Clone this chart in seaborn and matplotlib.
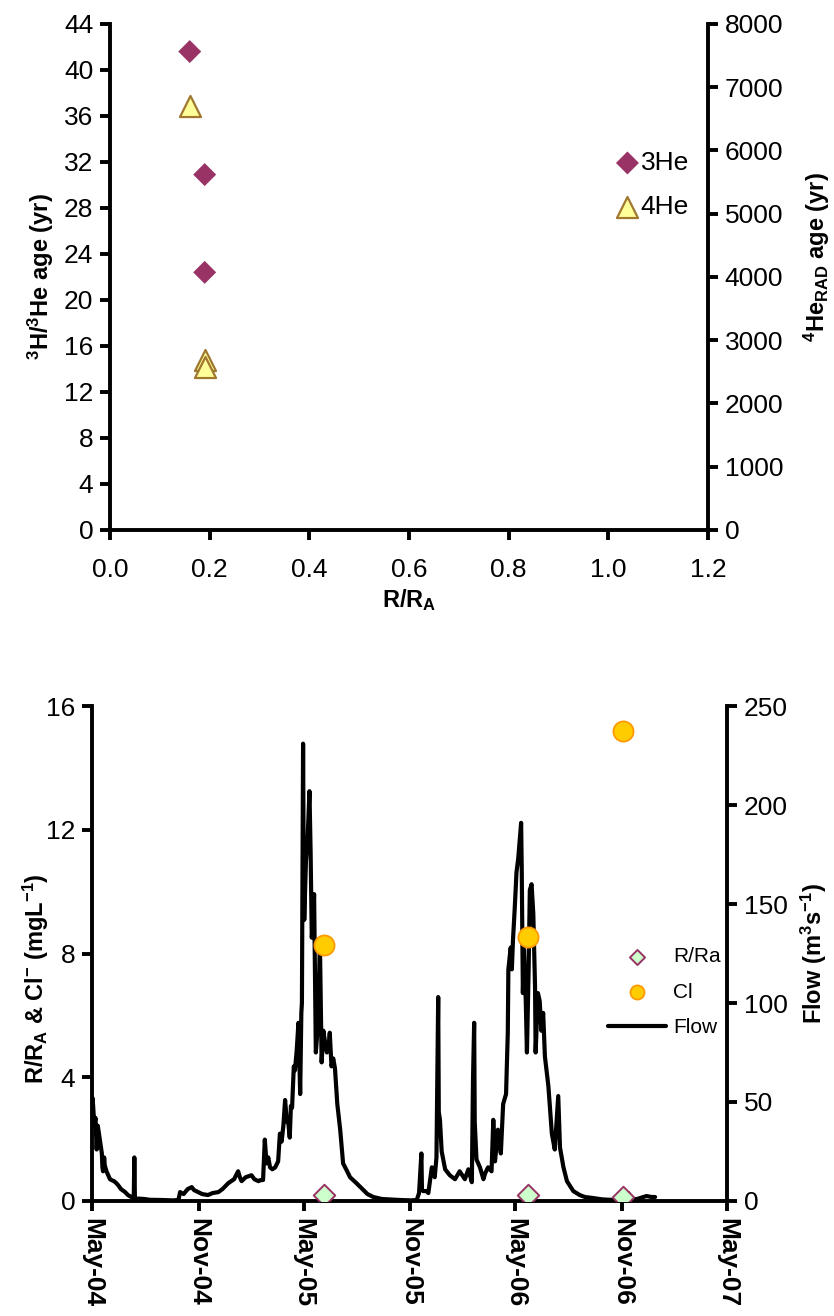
import numpy as np
import pandas as pd
import matplotlib
matplotlib.use("Agg")
import matplotlib.pyplot as plt
import seaborn as sns

sns.set_style("ticks")
plt.rcParams["font.family"] = ["Liberation Sans", "DejaVu Sans"]
plt.rcParams["mathtext.fontset"] = "custom"
plt.rcParams["mathtext.rm"] = "Liberation Sans:bold"
plt.rcParams["mathtext.default"] = "rm"
for key in ("axes.edgecolor", "xtick.color", "ytick.color", "text.color", "axes.labelcolor"):
    plt.rcParams[key] = "black"

# --------- data: top panel (age vs R/RA) ----------
he3_ratio = [0.16, 0.19, 0.19]
he3_age = [41.6, 30.9, 22.4]          # 3H/3He age, yr (left axis)
he4_ratio = [0.16, 0.19, 0.19]
he4_age = [6700, 2690, 2580]          # 4He_RAD age, yr (right axis)

# --------- data: bottom panel (time series) ----------
START = pd.Timestamp("2004-05-01")
sample_dates = ["2005-06-05", "2006-05-23", "2006-11-02"]
rra_vals = [0.19, 0.19, 0.12]
cl_vals = [8.27, 8.54, 15.2]

# flow record: days since 2004-05-01 and flow (m3/s)
flow_day = [0, 1, 2, 4, 6, 8, 10, 11, 13, 15, 17, 18, 19, 21, 22, 25, 28, 31, 34, 38,
            42, 45, 50, 57, 62, 68, 72, 73, 74, 75, 80, 90, 100, 120, 140, 149, 152, 158, 165, 172,
            176, 183, 190, 200, 208, 218, 225, 235, 245, 252, 255, 258, 265, 275, 280, 287, 290, 295, 298, 301,
            304, 307, 311, 316, 321, 324, 327, 330, 333, 336, 338, 341, 343, 345, 348, 350, 353, 356, 359, 361,
            362, 364, 365, 366, 369, 372, 375, 377, 379, 381, 383, 386, 390, 393, 396, 399, 402, 405, 408, 410,
            413, 416, 419, 423, 428, 433, 440, 445, 456, 468, 475, 485, 500, 531, 550, 560, 564, 568, 569, 571,
            577, 580, 586, 591, 594, 597, 598, 600, 603, 609, 617, 626, 634, 643, 649, 655, 657, 659, 660, 663,
            669, 675, 678, 683, 689, 692, 695, 700, 705, 709, 714, 717, 718, 722, 724, 726, 729, 732, 735, 738,
            740, 741, 743, 745, 748, 750, 753, 755, 758, 761, 764, 765, 769, 772, 775, 778, 781, 787, 793, 798,
            804, 807, 813, 819, 830, 841, 850, 864, 880, 900, 922, 925, 928, 940, 956, 965, 971]
flow_val = [50, 52, 48, 38, 42, 26, 38, 36, 32, 28, 24, 17, 15, 22, 18, 15, 13, 11, 10.5, 10,
            9, 8, 6, 4.5, 3, 2, 1.5, 22, 2, 1, 1.2, 1, 0.6, 0.5, 0.3, 0.5, 4.5, 3.5, 6, 7,
            5.5, 4.5, 3.5, 3, 4, 4.5, 6, 9, 11, 15, 12, 10, 12, 13, 11, 10, 10.5, 10.6, 31, 19,
            22, 17, 16, 17, 20, 34, 30, 38, 51, 40, 41, 32, 48, 47, 68, 66, 76, 90, 54, 95,
            100, 231, 170, 142, 172, 184, 207, 176, 133, 140, 155, 75, 91, 131, 70, 86, 80, 75, 78, 85,
            68, 72, 67, 49, 36, 19, 15, 12, 9, 5.5, 3.5, 2, 1, 0.5, 0.3, 0.5, 4, 24, 6, 5,
            5, 4, 17, 12, 22, 103, 45, 41, 25, 16, 13, 11, 15, 11, 16, 9.5, 61, 90, 40, 21,
            17, 11, 14, 17, 15, 41, 20, 36, 24, 49, 54, 85, 117, 128, 117, 132, 148, 166, 173, 184,
            191, 169, 105, 127, 101, 75, 118, 157, 160, 145, 108, 75, 105, 101, 86, 95, 73, 58, 34, 26,
            53, 27, 17, 10, 5, 3, 2, 1.5, 0.8, 0.5, 0.5, 4, 0.8, 1, 2.5, 2, 2]

x_tick_dates = ["2004-05-01", "2004-11-01", "2005-05-01", "2005-11-01",
                "2006-05-01", "2006-11-01", "2007-05-01"]

LW = 2.8
TICK_FS = 19


def style_axes(ax, twin):
    for a in (ax, twin):
        a.spines["top"].set_visible(False)
        for s in a.spines.values():
            s.set_linewidth(LW)
        a.tick_params(direction="out", length=7, width=LW, labelsize=TICK_FS, pad=5)
    ax.spines["right"].set_visible(False)
    twin.spines["left"].set_visible(False)
    twin.spines["bottom"].set_visible(False)


fig = plt.figure(figsize=(8.34, 13.16), dpi=100)

# --------- top panel ----------
ax1 = fig.add_axes([0.1319, 0.5973, 0.717, 0.3845])
ax1b = ax1.twinx()
sns.scatterplot(x=he3_ratio, y=he3_age, marker="D", s=137, color="#993366",
                edgecolor="none", ax=ax1, legend=False, zorder=3)
sns.scatterplot(x=he4_ratio, y=he4_age, marker="^", s=230, color="#FFFF99",
                edgecolor="#A07830", linewidth=1.6, ax=ax1b, legend=False, zorder=3)
ax1.set_xlim(0, 1.2)
ax1.set_ylim(0, 44)
ax1b.set_ylim(0, 8000)
ax1.set_xticks(np.arange(0, 1.21, 0.2))
ax1.set_xticklabels([f"{v:.1f}" for v in np.arange(0, 1.21, 0.2)])
ax1.set_yticks(range(0, 45, 4))
ax1b.set_yticks(range(0, 8001, 1000))
style_axes(ax1, ax1b)
ax1.tick_params(axis="x", pad=13)
ax1.set_xlabel(r"R/R$_{A}$", fontsize=17, fontweight="bold", labelpad=4)
ax1.set_ylabel(r"$^{3}$H/$^{3}$He age (yr)", fontsize=17, fontweight="bold", labelpad=6)
ax1b.set_ylabel(r"$^{4}$He$_{RAD}$ age (yr)", fontsize=17, fontweight="bold")
ax1b.yaxis.set_label_coords(1.157, 0.54)
ax1b.legend([ax1.collections[0], ax1b.collections[0]], ["3He", "4He"],
            loc="upper left", bbox_to_anchor=(0.83, 0.77), frameon=False,
            fontsize=19, handlelength=0.8, handletextpad=0.1, labelspacing=0.75,
            borderaxespad=0)

# --------- bottom panel ----------
ax2 = fig.add_axes([0.1103, 0.0874, 0.7614, 0.3761])
ax2b = ax2.twinx()
flow_dates = START + pd.to_timedelta(flow_day, unit="D")
sdates = pd.to_datetime(sample_dates)
sns.lineplot(x=flow_dates, y=flow_val, ax=ax2b, color="black", linewidth=3.0,
             estimator=None, sort=False, zorder=2)
sns.scatterplot(x=sdates, y=cl_vals, marker="o", s=210, color="#FFCC00",
                edgecolor="#FF9900", linewidth=1.3, ax=ax2, legend=False, zorder=3)
sns.scatterplot(x=sdates, y=rra_vals, marker="D", s=120, color="#CCFFCC",
                edgecolor="#993366", linewidth=1.4, ax=ax2, legend=False, zorder=3)
ax2.set_zorder(ax2b.get_zorder() + 1)
ax2.patch.set_visible(False)

ticks = pd.to_datetime(x_tick_dates)
ax2.set_xlim(ticks[0], ticks[-1])
ax2.set_xticks(ticks)
ax2.set_xticklabels([t.strftime("%b-%y") for t in ticks], rotation=270,
                    fontweight="bold")
ax2.set_ylim(0, 16)
ax2.set_yticks(range(0, 17, 4))
ax2b.set_ylim(0, 250)
ax2b.set_yticks(range(0, 251, 50))
style_axes(ax2, ax2b)
ax2.set_xlabel("")
ax2b.set_xlabel("")
ax2.set_ylabel(r"R/R$_{A}$ & Cl$^{-}$ (mgL$^{-1}$)", fontsize=17, fontweight="bold")
ax2.yaxis.set_label_coords(-0.065, 0.45)
ax2b.set_ylabel(r"Flow (m$^{3}$s$^{-1}$)", fontsize=17, fontweight="bold", labelpad=8)

flow_handle = plt.Line2D([], [], color="black", linewidth=3.0)
ax2.legend([ax2.collections[1], ax2.collections[0], flow_handle], ["R/Ra", "Cl", "Flow"],
           loc="upper left", bbox_to_anchor=(0.8, 0.53), frameon=False,
           fontsize=15, handlelength=2.75, handletextpad=0.35, labelspacing=0.8,
           borderaxespad=0, markerscale=0.7)

fig.savefig("out.png", dpi=100)
